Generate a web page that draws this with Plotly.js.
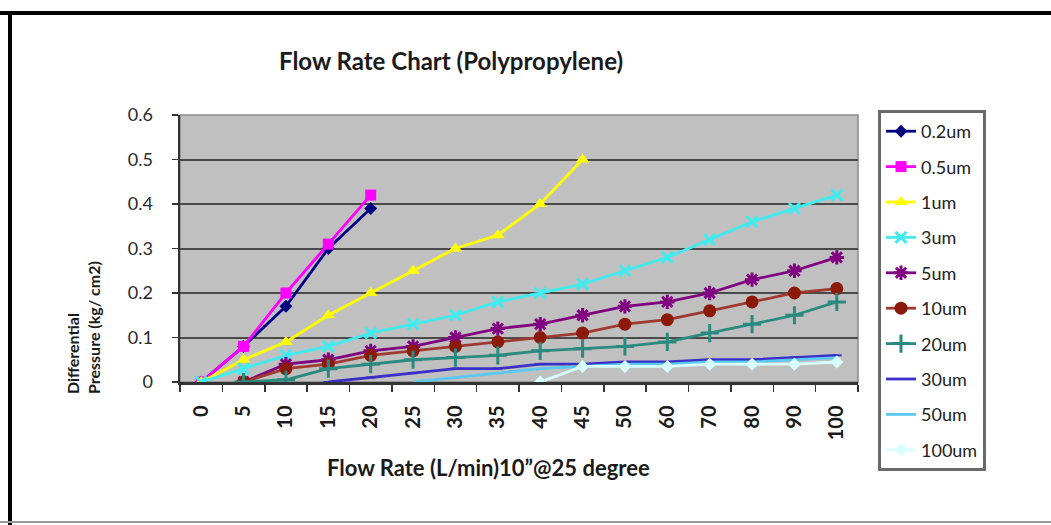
<!DOCTYPE html>
<html>
<head>
<meta charset="utf-8">
<script src="https://cdn.plot.ly/plotly-3.0.1.min.js"></script>
<style>
  html, body { margin: 0; padding: 0; background: #ffffff; }
  #chart { width: 1051px; height: 525px; }
</style>
</head>
<body>
<div id="chart"></div>
<script>
// Flow rate categories (L/min)
const categories = ['0','5','10','15','20','25','30','35','40','45','50','60','70','80','90','100'];

// Differential pressure (kg/cm2) per filter rating
const um02  = [0, 0.08, 0.17, 0.30, 0.39, null, null, null, null, null, null, null, null, null, null, null];
const um05  = [0, 0.08, 0.20, 0.31, 0.42, null, null, null, null, null, null, null, null, null, null, null];
const um1   = [0, 0.05, 0.09, 0.15, 0.20, 0.25, 0.30, 0.33, 0.40, 0.50, null, null, null, null, null, null];
const um3   = [0, 0.03, 0.06, 0.08, 0.11, 0.13, 0.15, 0.18, 0.20, 0.22, 0.25, 0.28, 0.32, 0.36, 0.39, 0.42];
const um5   = [null, 0, 0.04, 0.05, 0.07, 0.08, 0.10, 0.12, 0.13, 0.15, 0.17, 0.18, 0.20, 0.23, 0.25, 0.28];
const um10  = [null, 0, 0.03, 0.04, 0.06, 0.07, 0.08, 0.09, 0.10, 0.11, 0.13, 0.14, 0.16, 0.18, 0.20, 0.21];
const um20  = [null, 0, 0.005, 0.03, 0.04, 0.05, 0.055, 0.06, 0.07, 0.075, 0.08, 0.09, 0.11, 0.13, 0.15, 0.18];
const um30  = [null, null, null, 0, 0.01, 0.02, 0.03, 0.03, 0.04, 0.04, 0.045, 0.045, 0.05, 0.05, 0.055, 0.06];
const um50  = [null, null, null, null, null, 0, 0.01, 0.02, 0.03, 0.035, 0.04, 0.04, 0.045, 0.045, 0.05, 0.055];
const um100 = [null, null, null, null, null, null, null, null, 0, 0.035, 0.035, 0.035, 0.04, 0.04, 0.04, 0.045];

const seriesNames = ['0.2um','0.5um','1um','3um','5um','10um','20um','30um','50um','100um'];
const seriesData  = [um02, um05, um1, um3, um5, um10, um20, um30, um50, um100];

const styles = [
  {color:'#000080', symbol:'diamond', size:10},
  {color:'#ff00ff', symbol:'square', size:11},
  {color:'#ffff00', symbol:'triangle-up', size:12},
  {color:'#40ecf0', symbol:'x-thin-open', size:11, lw:3},
  {color:'#800080', symbol:'asterisk-open', size:12, lw:3},
  {color:'#8c1a0a', symbol:'circle', size:13, line:'#a03a30'},
  {color:'#2a8a80', symbol:'cross-thin-open', size:13, lw:3},
  {color:'#3a30c8', symbol:'line-ew-open', size:7, lw:2},
  {color:'#5ac8f0', symbol:'circle', size:0},
  {color:'#d8ffff', symbol:'diamond', size:10}
];

const traces = seriesNames.map((name, i) => {
  const st = styles[i];
  const isOpen = /open/.test(st.symbol);
  return {
    type: 'scatter',
    mode: st.size > 0 ? 'lines+markers' : 'lines',
    name: name,
    legendgroup: 'g' + i,
    x: categories,
    y: seriesData[i],
    connectgaps: false,
    line: {color: st.line || st.color, width: 2.8},
    marker: {
      color: st.color,
      symbol: st.symbol,
      size: st.size,
      line: isOpen ? {color: st.color, width: st.lw || 2} : {width: 0}
    },
    hoverinfo: 'x+y+name'
  };
});

// plot-area pixel geometry -> paper coordinates helpers
const L = 180, R = 858, T = 115, B = 382;
const px = v => (v - L) / (R - L);
const py = v => (B - v) / (B - T);

const layout = {
  width: 1051,
  height: 525,
  margin: {l: L, r: 1051 - R, t: T, b: 525 - B, pad: 0},
  paper_bgcolor: '#ffffff',
  plot_bgcolor: '#c0c0c0',
  font: {family: 'Lato, "Open Sans", sans-serif', color: '#222222'},
  title: {
    text: 'Flow Rate Chart (Polypropylene)',
    font: {family: 'Lato, sans-serif', size: 24, weight: 700, color: '#1a1a1a'},
    xref: 'container', yref: 'container',
    x: 451 / 1051, xanchor: 'center',
    y: 1 - 62 / 525, yanchor: 'middle'
  },
  xaxis: {
    type: 'category',
    categoryorder: 'array',
    categoryarray: categories,
    range: [-0.5, categories.length - 0.5],
    autorange: false,
    tickangle: -90,
    tickson: 'boundaries',
    ticks: 'outside',
    ticklen: 7,
    tickwidth: 1.5,
    tickcolor: '#333333',
    showline: true,
    linecolor: '#333333',
    linewidth: 2.5,
    showgrid: false,
    zeroline: false,
    tickfont: {family: 'Lato, sans-serif', size: 20, weight: 700, color: '#1a1a1a'},
    ticklabelstandoff: 13,
    fixedrange: true
  },
  yaxis: {
    range: [0, 0.6],
    autorange: false,
    tick0: 0,
    dtick: 0.1,
    ticks: 'outside',
    ticklen: 6,
    tickwidth: 1.5,
    tickcolor: '#333333',
    showline: true,
    linecolor: '#333333',
    linewidth: 2.5,
    showgrid: true,
    gridcolor: '#4a4a4a',
    gridwidth: 2,
    zeroline: false,
    tickfont: {family: 'Lato, sans-serif', size: 18, color: '#2a2a2a'},
    ticklabelstandoff: 15,
    fixedrange: true
  },
  showlegend: true,
  legend: {
    x: px(878), xanchor: 'left',
    y: py(110), yanchor: 'top',
    bgcolor: '#ffffff',
    bordercolor: '#6a6a6a',
    borderwidth: 3,
    traceorder: 'grouped',
    tracegroupgap: 9,
    maxheight: 420,
    font: {family: 'Lato, sans-serif', size: 18, color: '#222222'},
    itemwidth: 30
  },
  annotations: [
    {
      text: 'Flow Rate (L/min)10\u201d@25 degree',
      xref: 'paper', yref: 'paper',
      x: px(488), y: py(467),
      xanchor: 'center', yanchor: 'middle',
      showarrow: false,
      font: {family: 'Lato, sans-serif', size: 22, weight: 700, color: '#1a1a1a'}
    },
    {
      text: 'Differential<br>Pressure (kg/ cm2)',
      xref: 'paper', yref: 'paper',
      x: px(83), y: py(328),
      xanchor: 'center', yanchor: 'middle',
      textangle: -90,
      align: 'left',
      showarrow: false,
      font: {family: 'Lato, sans-serif', size: 16, weight: 700, color: '#1a1a1a'}
    }
  ],
  shapes: [
    // plot-area frame
    {type: 'rect', xref: 'paper', yref: 'paper', x0: 0, x1: 1, y0: 0, y1: 1,
     line: {color: '#8a8a8a', width: 1.5}, layer: 'below'},
    // outer image frame: top, left, bottom
    {type: 'line', xref: 'paper', yref: 'paper', x0: px(0), x1: px(1051), y0: py(13), y1: py(13),
     line: {color: '#000000', width: 4}},
    {type: 'line', xref: 'paper', yref: 'paper', x0: px(10), x1: px(10), y0: py(11), y1: py(525),
     line: {color: '#000000', width: 4}},
    {type: 'line', xref: 'paper', yref: 'paper', x0: px(0), x1: px(1051), y0: py(522), y1: py(522),
     line: {color: '#9a9a9a', width: 2}}
  ]
};

Plotly.newPlot('chart', traces, layout, {displayModeBar: false, responsive: false, staticPlot: true});
</script>
</body>
</html>
